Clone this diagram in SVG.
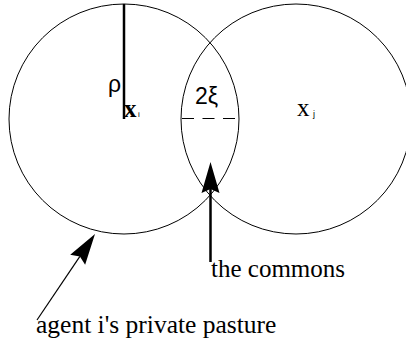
<svg xmlns="http://www.w3.org/2000/svg" width="406" height="345" viewBox="0 0 406 345">
<style>
.circle{fill:none;stroke:#000;stroke-width:1}
.sans{font-family:"Liberation Sans",Arial,sans-serif;fill:#000}
.serif{font-family:"Liberation Serif","Times New Roman",serif;fill:#000}
.conn{stroke:#000;fill:none}
</style>
<defs>
<marker id="head" markerUnits="userSpaceOnUse" viewBox="-32 -12 34 24" markerWidth="34" markerHeight="24" refX="-27" refY="0" orient="auto">
<path d="M0,0 L-31,-9 L-27,0 L-31,9 Z" fill="#000"/>
</marker>
</defs>
<rect width="406" height="345" fill="#fff"/>
<g id="pasture-i">
<circle class="circle" cx="124" cy="119" r="115"/>
<text class="sans" x="108" y="92" font-size="23">ρ</text>
<text class="serif" x="124" y="117" font-size="25" font-weight="bold">x</text>
<text class="sans" x="138" y="117" font-size="8" fill="#444">i</text>
</g>
<g id="pasture-j">
<circle class="circle" cx="296" cy="119" r="115"/>
<text class="serif" x="297" y="116" font-size="25">x</text>
<text class="sans" x="313" y="117" font-size="9">j</text>
</g>
<g id="commons">
<text class="sans" x="195" y="104" font-size="23">2ξ</text>
</g>
<g id="connectors">
<line class="conn" x1="124" y1="4" x2="124" y2="119" stroke-width="2.5"/>
<line class="conn" x1="182" y1="118.5" x2="238" y2="118.5" stroke="#555" stroke-width="1.2" stroke-dasharray="12,8.5"/>
<line class="conn" x1="210.5" y1="262" x2="210.5" y2="189" stroke-width="2.5" marker-end="url(#head)"/>
<line class="conn" x1="37" y1="320" x2="79.9" y2="256.4" stroke-width="1.2" marker-end="url(#head)"/>
</g>
<g id="labels">
<text class="serif" x="211" y="277" font-size="25">the commons</text>
<text class="serif" x="36" y="333" font-size="25.5">agent i's private pasture</text>
</g>
</svg>
